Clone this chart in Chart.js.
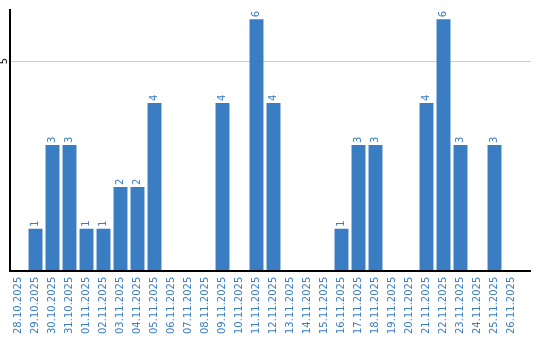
<!DOCTYPE html>
<html>
<head>
    <meta charset="utf-8" />
    <style>
        body {
            margin: 0;
            padding: 0;
            background-color: #fff;
        }

        .chart-box {
            width: 540px;
            height: 340px;
        }
    </style>
</head>
<body>
    <div class="chart-box">
        <canvas id="countChart"></canvas>
    </div>
    <script src="https://cdn.jsdelivr.net/npm/chart.js"></script>
    <script>
        // Days shown on the x axis
        var days = [
            "28.10.2025", "29.10.2025", "30.10.2025", "31.10.2025", "01.11.2025",
            "02.11.2025", "03.11.2025", "04.11.2025", "05.11.2025", "06.11.2025",
            "07.11.2025", "08.11.2025", "09.11.2025", "10.11.2025", "11.11.2025",
            "12.11.2025", "13.11.2025", "14.11.2025", "15.11.2025", "16.11.2025",
            "17.11.2025", "18.11.2025", "19.11.2025", "20.11.2025", "21.11.2025",
            "22.11.2025", "23.11.2025", "24.11.2025", "25.11.2025", "26.11.2025"
        ];

        // Count per day
        var counts = [0, 1, 3, 3, 1, 1, 2, 2, 4, 0, 0, 0, 4, 0, 6, 4, 0, 0, 0, 1, 3, 3, 0, 0, 4, 6, 3, 0, 3, 0];

        // Only tick label shown on the y axis
        var yTicks = [5];

        var barColor = "#3a7dc2";
        var extraRight = 11; // axis and grid run a bit past the last day

        // Draws value labels above the bars, the rotated y tick labels,
        // and the x axis line (which runs a bit past the last day)
        var labelPlugin = {
            id: "labelPlugin",
            afterDatasetsDraw: function (chart) {
                var ctx = chart.ctx;
                var meta = chart.getDatasetMeta(0);
                var yScale = chart.scales.y;
                var area = chart.chartArea;
                ctx.save();

                ctx.strokeStyle = "#cccccc";
                ctx.lineWidth = 1;
                yTicks.forEach(function (t) {
                    var py = Math.round(yScale.getPixelForValue(t)) + 0.5;
                    ctx.beginPath();
                    ctx.moveTo(area.right, py);
                    ctx.lineTo(area.right + extraRight, py);
                    ctx.stroke();
                });

                var axisY = Math.round(yScale.getPixelForValue(0));
                ctx.strokeStyle = "#000";
                ctx.lineWidth = 2;
                ctx.beginPath();
                ctx.moveTo(area.left - 1, axisY);
                ctx.lineTo(area.right + extraRight, axisY);
                ctx.stroke();

                ctx.font = "10px 'DejaVu Sans'";
                ctx.fillStyle = barColor;
                ctx.textAlign = "left";
                ctx.textBaseline = "middle";
                meta.data.forEach(function (bar, i) {
                    if (!counts[i]) return;
                    ctx.save();
                    ctx.translate(bar.x, bar.y - 2);
                    ctx.rotate(-Math.PI / 2);
                    ctx.fillText(String(counts[i]), 0, 0);
                    ctx.restore();
                });

                ctx.fillStyle = "#000";
                ctx.textAlign = "center";
                ctx.textBaseline = "middle";
                yTicks.forEach(function (t) {
                    ctx.save();
                    ctx.translate(yScale.left + 4, yScale.getPixelForValue(t));
                    ctx.rotate(-Math.PI / 2);
                    ctx.fillText(String(t), 0, 0);
                    ctx.restore();
                });
                ctx.restore();
            }
        };

        var ctx = document.getElementById("countChart").getContext("2d");
        var countChart = new Chart(ctx, {
            type: "bar",
            data: {
                labels: days,
                datasets: [
                    {
                        data: counts,
                        backgroundColor: barColor,
                        borderWidth: 0,
                        barPercentage: 0.82,
                        categoryPercentage: 1.0,
                    },
                ],
            },
            options: {
                responsive: true,
                maintainAspectRatio: false,
                animation: false,
                layout: {
                    padding: { top: 10, right: 9 + extraRight, left: 0, bottom: 0 },
                },
                plugins: {
                    legend: { display: false },
                    tooltip: { enabled: false },
                },
                scales: {
                    x: {
                        grid: { display: false, drawTicks: false },
                        border: { display: false },
                        ticks: {
                            color: barColor,
                            font: { family: "DejaVu Sans", size: 10 },
                            minRotation: 90,
                            maxRotation: 90,
                            autoSkip: false,
                            padding: 6,
                        },
                    },
                    y: {
                        min: 0,
                        max: 6.22,
                        border: { color: "#000", width: 2 },
                        grid: {
                            drawTicks: false,
                            color: function (c) {
                                return c.tick && c.tick.value === 5 ? "#cccccc" : "rgba(0,0,0,0)";
                            },
                        },
                        ticks: { display: false, stepSize: 5 },
                        afterFit: function (scale) {
                            scale.width = 10;
                        },
                    },
                },
            },
            plugins: [labelPlugin],
        });
    </script>
</body>
</html>
